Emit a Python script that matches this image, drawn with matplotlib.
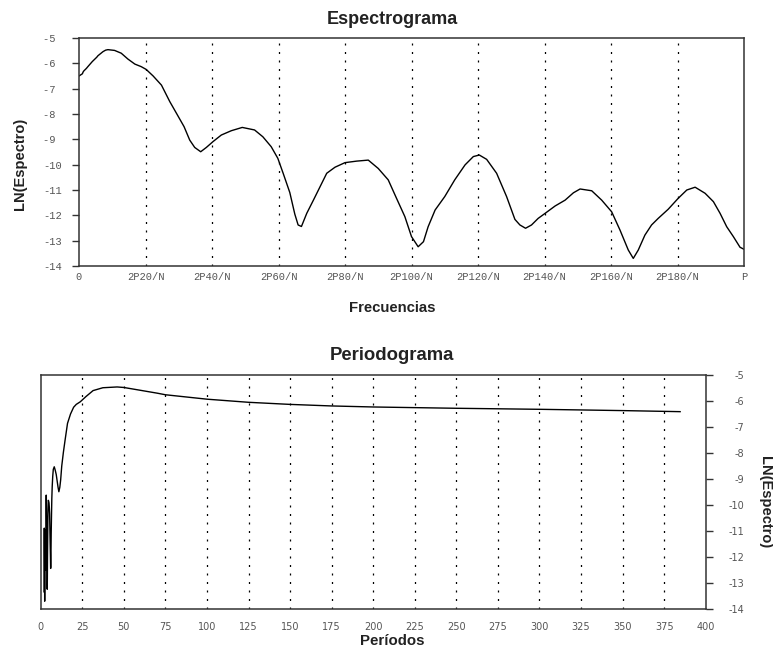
import matplotlib
matplotlib.use("Agg")
import matplotlib.pyplot as plt
import numpy as np

# ---- data -------------------------------------------------------------
N = 400  # series length used to turn frequency index into period
freq_k = [0, 1.04, 1.14, 1.33, 1.6, 2.0, 2.29, 2.67, 3.2, 4.0, 5.33, 5.7, 7.2, 8.0, 8.7,
          10.7, 12.7, 14.7, 16.8, 18.7, 20.2, 22.3, 24.8, 27.3, 29.3, 31.6, 33.3, 34.8,
          36.6, 38.3, 40.3, 42.8, 45.8, 49.1, 52.8, 55.3, 57.8, 59.8, 61.4, 63.4, 64.9,
          65.9, 66.9, 68.5, 70.5, 72.5, 74.5, 77, 80, 83.5, 87, 90, 93, 95.5, 98, 100,
          102, 103.6, 105, 107.1, 110, 113, 116.1, 118.6, 120.4, 122.6, 125.6, 128.6,
          131.1, 132.6, 134.3, 136.1, 138.1, 140.2, 143.2, 146.2, 148.7, 150.7, 154.2,
          157.2, 160.2, 162.7, 165.2, 166.7, 168.2, 170.2, 172.2, 174.2, 177.2, 180.2,
          182.8, 185.3, 188.3, 190.8, 192.8, 194.8, 196.8, 198.8, 200]
ln_spectrum = [-6.5, -6.41, -6.37, -6.32, -6.28, -6.23, -6.19, -6.13, -6.05, -5.93, -5.76,
               -5.70, -5.54, -5.48, -5.46, -5.49, -5.60, -5.83, -6.03, -6.13, -6.24, -6.5,
               -6.86, -7.51, -7.97, -8.5, -9.03, -9.32, -9.49, -9.32, -9.09, -8.83, -8.66,
               -8.53, -8.63, -8.9, -9.29, -9.75, -10.34, -11.1, -11.95, -12.38, -12.44,
               -11.92, -11.4, -10.87, -10.34, -10.1, -9.92, -9.86, -9.82, -10.15, -10.6,
               -11.33, -12.05, -12.84, -13.24, -13.04, -12.45, -11.79, -11.26, -10.6,
               -10.01, -9.68, -9.62, -9.79, -10.34, -11.26, -12.16, -12.38, -12.51,
               -12.38, -12.12, -11.92, -11.63, -11.4, -11.11, -10.96, -11.03, -11.4,
               -11.86, -12.58, -13.37, -13.7, -13.37, -12.78, -12.38, -12.12, -11.76,
               -11.33, -11.0, -10.89, -11.13, -11.46, -11.92, -12.45, -12.84, -13.26,
               -13.34]
freq_ticks = [0, 20, 40, 60, 80, 100, 120, 140, 160, 180, 200]
freq_labels = ['0', '2P20/N', '2P40/N', '2P60/N', '2P80/N', '2P100/N', '2P120/N',
               '2P140/N', '2P160/N', '2P180/N', 'P']
period_ticks = [0, 25, 50, 75, 100, 125, 150, 175, 200, 225, 250, 275, 300, 325,
                350, 375, 400]
y_ticks = [-14, -13, -12, -11, -10, -9, -8, -7, -6, -5]

k_arr = np.array(freq_k, dtype=float)
v_arr = np.array(ln_spectrum, dtype=float)
pos = k_arr > 0
periods = N / k_arr[pos]
v_per = v_arr[pos]

# ---- figure -----------------------------------------------------------
W, H = 773, 652
fig = plt.figure(figsize=(W / 100, H / 100), dpi=100)

spine_col = '#333333'
tick_col = '#555555'
grid_kw = dict(color='black', linewidth=0.9, linestyle=(0, (1.6, 5.2)))

# top: spectrogram
ax1 = fig.add_axes([79 / W, 1 - 266 / H, 665 / W, 228 / H])
ax1.plot(k_arr, v_arr, color='black', linewidth=1.0)
ax1.set_xlim(0, 200)
ax1.set_ylim(-14, -5)
ax1.set_xticks(freq_ticks)
ax1.set_xticklabels(freq_labels, family='Liberation Mono', fontsize=7.5, color=tick_col)
ax1.set_yticks(y_ticks)
ax1.set_yticklabels([f"{t:<3d}" for t in y_ticks],
                    family='Liberation Mono', fontsize=7.5, color=tick_col)
ax1.tick_params(axis='x', length=0, pad=4.5)
ax1.tick_params(axis='y', length=4.8, width=1.0, color=spine_col, pad=7.5, direction='out')
for x in freq_ticks[1:-1]:
    ax1.axvline(x, **grid_kw)
for s in ax1.spines.values():
    s.set_color(spine_col)
    s.set_linewidth(1.1)

# bottom: periodogram
ax2 = fig.add_axes([40.7 / W, 1 - 609 / H, 665 / W, 234 / H])
ax2.plot(periods, v_per, color='black', linewidth=1.0)
ax2.set_xlim(0, 400)
ax2.set_ylim(-14, -5)
ax2.set_xticks(period_ticks)
ax2.set_xticklabels([str(t) for t in period_ticks], fontsize=7, color=tick_col,
                    family='DejaVu Sans')
ax2.yaxis.tick_right()
ax2.set_yticks(y_ticks)
ax2.set_yticklabels([str(t) for t in y_ticks], fontsize=7, color=tick_col,
                    family='DejaVu Sans', ha='right')
ax2.tick_params(axis='x', length=0, pad=9)
ax2.tick_params(axis='y', length=4.8, width=1.0, color=spine_col, pad=23, direction='out')
for x in period_ticks[1:-1]:
    ax2.axvline(x, **grid_kw)
for s in ax2.spines.values():
    s.set_color(spine_col)
    s.set_linewidth(1.1)

# texts
cx = 392 / W
tfont = dict(family='Liberation Sans', fontweight='bold', color='#222222')
fig.text(cx, 1 - 19 / H, 'Espectrograma', ha='center', va='center', fontsize=13, **tfont)
fig.text(cx, 1 - 308 / H, 'Frecuencias', ha='center', va='center', fontsize=10.7, **tfont)
fig.text(20 / W, 1 - 164 / H, 'LN(Espectro)', ha='center', va='center', rotation=90,
         fontsize=10.5, **tfont)
fig.text(cx, 1 - 355 / H, 'Periodograma', ha='center', va='center', fontsize=13.3, **tfont)
fig.text(cx, 1 - 641 / H, 'Períodos', ha='center', va='center', fontsize=10.8, **tfont)
fig.text(765 / W, 1 - 502 / H, 'LN(Espectro)', ha='center', va='center', rotation=-90,
         fontsize=10.5, **tfont)

fig.savefig('out.png', dpi=100, facecolor='white')
